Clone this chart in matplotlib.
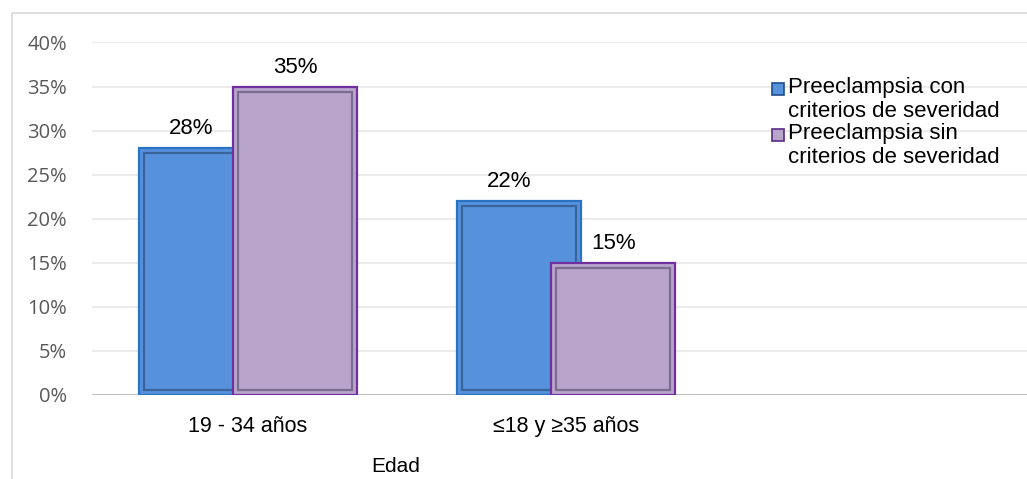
import matplotlib
matplotlib.use("Agg")
import matplotlib.pyplot as plt
from matplotlib.patches import Rectangle, Patch
from matplotlib.legend_handler import HandlerPatch
import numpy as np

categories = ["19 - 34 años", "\u226418 y \u226535 años"]
series_names = ["Preeclampsia con\ncriterios de severidad",
                "Preeclampsia sin\ncriterios de severidad"]
con_severidad = [0.28, 0.22]
sin_severidad = [0.35, 0.15]
y_ticks = [0.00, 0.05, 0.10, 0.15, 0.20, 0.25, 0.30, 0.35, 0.40]

FILL = ["#5692DC", "#B9A5CC"]
EDGE = ["#2A72C4", "#7030A0"]
INNER = ["#28466E", "#514863"]


class TopSquare(HandlerPatch):
    # square legend key sitting next to the first text line
    def __init__(self, face, edge, **kw):
        super().__init__(**kw)
        self.face = face
        self.edge = edge

    def create_artists(self, legend, orig_handle, xdescent, ydescent,
                       width, height, fontsize, trans):
        s = 0.55 * fontsize
        y0 = -ydescent + height - s + 0.32 * fontsize
        r = Rectangle((-xdescent, y0), s, s, facecolor=self.face,
                      edgecolor=self.edge, linewidth=1.2, transform=trans)
        return [r]


fig = plt.figure(figsize=(10.27, 4.79), dpi=100)
ax = fig.add_axes([92 / 1027, 84 / 479, 935 / 1027, 353 / 479])

x = np.arange(len(categories))
width = 0.39
offset = 0.148
px_x = 1 / 318        # data units per pixel along x (318 px per category)
px_y = 0.05 / 44.1

for i, (vals, sign) in enumerate([(con_severidad, -1), (sin_severidad, 1)]):
    pos = x + sign * offset
    ax.bar(pos, vals, width=width, color=FILL[i], edgecolor=EDGE[i],
           linewidth=1.6, zorder=2 + i * 2)
    # bevel frame inside each bar
    ix, iy = 5 * px_x, 5 * px_y
    ax.bar(pos, [v - 2 * iy for v in vals], bottom=iy, width=width - 2 * ix,
           color="none", edgecolor=INNER[i], linewidth=1.6, alpha=0.6,
           zorder=2 + i * 2 + 1)
    for p, v in zip(pos, vals):
        dx = -7 if sign < 0 else 0
        ax.annotate("%d%%" % round(v * 100), (p, v), xytext=(dx, 10),
                    textcoords="offset points", ha="center", va="baseline",
                    fontsize=16, family="Liberation Sans", color="#000000")

left = -0.5 + 3 * px_x
ax.set_xlim(left, left + 935 * px_x)
ax.set_ylim(0, 0.4005)
ax.set_yticks(y_ticks)
ax.set_yticklabels(["%d%%" % round(t * 100) for t in y_ticks],
                   family="Open Sans", fontsize=14.5, color="#595959")
ax.set_xticks(x)
ax.set_xticklabels(categories, family="Liberation Sans", fontsize=15.5,
                   color="#000000")
ax.tick_params(axis="y", length=0, pad=18)
ax.tick_params(axis="x", length=0, pad=15)
for sp in ax.spines.values():
    sp.set_visible(False)
ax.grid(axis="y", color="#EBEBEB", linewidth=1.5, zorder=0)
ax.set_axisbelow(True)
ax.axhline(0, color="#BFBFBF", linewidth=2.2, zorder=1)

fig.text(396 / 1027, 1 - 466 / 479, "Edad", ha="center", va="center",
         family="Liberation Sans", fontsize=15)

handles = [Patch(facecolor=FILL[0]), Patch(facecolor=FILL[1])]
leg = ax.legend(handles, series_names, loc="upper left",
                bbox_to_anchor=(772 / 1027, 1 - 77 / 479),
                bbox_transform=fig.transFigure, frameon=False,
                prop={"family": "Liberation Sans", "size": 16},
                handlelength=0.6, handleheight=1.0, handletextpad=0.12,
                labelspacing=0.08, borderpad=0, borderaxespad=0,
                handler_map={handles[0]: TopSquare(FILL[0], "#1F4E8C"),
                             handles[1]: TopSquare(FILL[1], "#5B2A86")})
for t in leg.get_texts():
    t.set_linespacing(1.16)

# outer chart border
fig.patches.append(Rectangle((12 / 1027, -0.05), 1.2, 1.05 - 13 / 479,
                             transform=fig.transFigure, fill=False,
                             edgecolor="#D9D9D9", linewidth=1.2))

fig.savefig("out.png", dpi=100)
